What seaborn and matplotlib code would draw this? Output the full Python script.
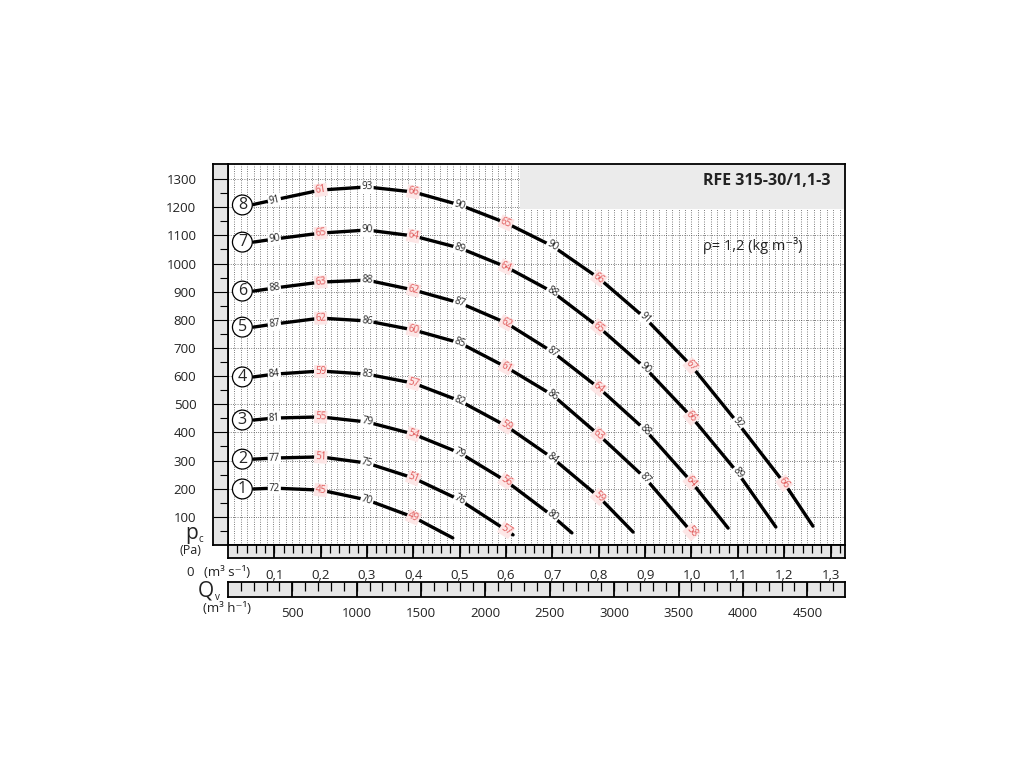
import numpy as np
import pandas as pd
import matplotlib
matplotlib.use('Agg')
import matplotlib.pyplot as plt
import seaborn as sns
from matplotlib.patches import Rectangle

sns.set_theme(style='white')
plt.rcParams['font.family'] = ['Open Sans', 'DejaVu Sans']

# Curvas del ventilador: caudal (m3/s) y presion (Pa)
q1 = [0.055, 0.1, 0.2, 0.3, 0.4, 0.485]
p1 = [199, 202, 195, 160, 99, 25]
e1 = [72, 45, 70, 49]

q2 = [0.055, 0.1, 0.2, 0.3, 0.4, 0.5, 0.6, 0.615]
p2 = [305, 309, 313, 291, 238, 160, 53, 36]
e2 = [77, 51, 75, 51, 76, 57]

q3 = [0.055, 0.1, 0.2, 0.3, 0.4, 0.5, 0.6, 0.7, 0.742]
p3 = [444, 451, 455, 437, 394, 327, 227, 103, 43]
e3 = [81, 55, 79, 54, 79, 56, 80]

q4 = [0.055, 0.1, 0.2, 0.3, 0.4, 0.5, 0.6, 0.7, 0.8, 0.874]
p4 = [597, 607, 618, 607, 575, 512, 423, 309, 171, 46]
e4 = [84, 59, 83, 57, 82, 59, 84, 59]

q5 = [0.055, 0.1, 0.2, 0.3, 0.4, 0.5, 0.6, 0.7, 0.8, 0.9, 1.0]
p5 = [774, 785, 806, 796, 764, 718, 632, 533, 391, 238, 46]
e5 = [87, 62, 86, 60, 85, 61, 86, 63, 87, 58]

q6 = [0.055, 0.1, 0.2, 0.3, 0.4, 0.5, 0.6, 0.7, 0.8, 0.9, 1.0, 1.079]
p6 = [902, 913, 934, 941, 906, 860, 789, 686, 558, 409, 224, 60]
e6 = [88, 63, 88, 62, 87, 62, 87, 64, 88, 64]

q7 = [0.055, 0.1, 0.2, 0.3, 0.4, 0.5, 0.6, 0.7, 0.8, 0.9, 1.0, 1.1, 1.182]
p7 = [1076, 1087, 1108, 1119, 1098, 1055, 988, 899, 774, 629, 455, 256, 64]
e7 = [90, 65, 90, 64, 89, 64, 88, 65, 90, 66, 89]

q8 = [0.05, 0.1, 0.2, 0.3, 0.4, 0.5, 0.6, 0.7, 0.8, 0.9, 1.0, 1.1, 1.2, 1.262]
p8 = [1208, 1226, 1261, 1272, 1254, 1208, 1144, 1062, 948, 806, 636, 433, 220, 67]
e8 = [91, 61, 93, 66, 90, 65, 90, 66, 91, 67, 92, 66]

curvas = [(q1, p1, e1), (q2, p2, e2), (q3, p3, e3), (q4, p4, e4),
          (q5, p5, e5), (q6, p6, e6), (q7, p7, e7), (q8, p8, e8)]

ticks_pa = list(range(100, 1301, 100))
ticks_qs = [0.1, 0.2, 0.3, 0.4, 0.5, 0.6, 0.7, 0.8, 0.9, 1.0, 1.1, 1.2, 1.3]
ticks_qh = [500, 1000, 1500, 2000, 2500, 3000, 3500, 4000, 4500]

XMAX = 1.3312
YMAX = 1353.5
GRIS = '#e6e6e6'

fig = plt.figure(figsize=(10.24, 7.68), dpi=100)

def px(x, y, w, h):
    return [x / 1024, 1 - (y + h) / 768, w / 1024, h / 768]

# Grafico principal
ax = fig.add_axes(px(228, 164, 617, 381))
ax.set_xlim(0, XMAX)
ax.set_ylim(0, YMAX)
ax.set_xticks(np.arange(1, 96) / 72)
ax.set_yticks(ticks_pa)
ax.tick_params(length=0, labelbottom=False, labelleft=False)
ax.set_axisbelow(True)
ax.grid(True, color='#333333', lw=0.55, ls=(0, (1, 2)))
for s in ax.spines.values():
    s.set_color('black')
    s.set_linewidth(1.3)

ax.add_patch(Rectangle((0.4733, 0.882), 0.53, 0.12, transform=ax.transAxes,
                       fc='#ebebeb', ec='none', zorder=1.5))
ax.text(0.976, 0.955, 'RFE 315-30/1,1-3', transform=ax.transAxes, ha='right', va='center',
        fontsize=11.5, fontweight='bold', color='#222222', zorder=5)
ax.text(0.77, 0.787, 'ρ= 1,2 (kg m⁻³)', transform=ax.transAxes, ha='left', va='center',
        fontsize=10.5, color='#222222', zorder=5)

for n, (q, p, e) in enumerate(curvas, start=1):
    df = pd.DataFrame({'q': q, 'p': p})
    sns.lineplot(data=df, x='q', y='p', sort=False, estimator=None, color='black',
                 lw=2.4, ax=ax, zorder=3)
    ax.text(0.031, p[0], str(n), ha='center', va='center', fontsize=11.5, zorder=5,
            bbox=dict(boxstyle='circle,pad=0.12', fc='white', ec='black', lw=0.9))

ax.set_xlabel('')
ax.set_ylabel('')

# Etiquetas a lo largo de las curvas
tr = ax.transData
for q, p, e in curvas:
    pts = tr.transform(np.column_stack([q, p]))
    for j, val in enumerate(e):
        i = j + 1
        a = pts[i - 1]
        b = pts[min(i + 1, len(q) - 1)]
        ang = np.degrees(np.arctan2(b[1] - a[1], b[0] - a[0]))
        if j % 2 == 1:
            col, fondo = '#e05a5a', '#fde6e6'
        else:
            col, fondo = '#222222', 'white'
        ax.text(q[i], p[i], str(val), ha='center', va='center', rotation=ang,
                rotation_mode='anchor', fontsize=7, color=col, zorder=6,
                bbox=dict(boxstyle='square,pad=0.1', fc=fondo, ec='none'))

# Franja izquierda (Pa)
axs = fig.add_axes(px(213, 164, 15, 381))
axs.set_facecolor(GRIS)
axs.set_xlim(0, 1)
axs.set_ylim(0, YMAX)
axs.hlines(ticks_pa, 0, 1, color='black', lw=0.8)
axs.hlines([t - 50 for t in ticks_pa], 0.45, 1, color='black', lw=0.8)
axs.set_xticks([])
axs.set_yticks(ticks_pa)
axs.set_yticklabels([str(t) for t in ticks_pa])
axs.tick_params(length=0, pad=12, labelsize=9.5, labelcolor='#222222')
for s in axs.spines.values():
    s.set_color('black')
    s.set_linewidth(1.3)

# Escala m3/s
axb1 = fig.add_axes(px(228, 545, 617, 13))
axb1.set_facecolor(GRIS)
axb1.set_xlim(0, XMAX)
axb1.set_ylim(0, 1)
axb1.vlines(ticks_qs, 0, 1, color='black', lw=1.3)
axb1.vlines(np.arange(1, 67) * 0.02, 0.4, 1, color='black', lw=0.9)
axb1.set_yticks([])
axb1.set_xticks(ticks_qs)
axb1.set_xticklabels([f'{t:.1f}'.replace('.', ',') for t in ticks_qs])
axb1.tick_params(length=0, pad=8, labelsize=9.5, labelcolor='#222222')
for s in axb1.spines.values():
    s.set_color('black')
    s.set_linewidth(1.3)

# Escala m3/h
axb2 = fig.add_axes(px(228, 582, 617, 15))
axb2.set_facecolor(GRIS)
axb2.set_xlim(0, XMAX * 3600)
axb2.set_ylim(0, 1)
axb2.vlines(ticks_qh, 0, 1, color='black', lw=1.3)
axb2.vlines(np.arange(1, 48) * 100, 0.4, 1, color='black', lw=0.9)
axb2.set_yticks([])
axb2.set_xticks(ticks_qh)
axb2.set_xticklabels([str(t) for t in ticks_qh])
axb2.tick_params(length=0, pad=7, labelsize=9.5, labelcolor='#222222')
for s in axb2.spines.values():
    s.set_color('black')
    s.set_linewidth(1.3)

def ft(x, y, s, **kw):
    fig.text(x / 1024, 1 - y / 768, s, color='#222222', **kw)

ft(192, 534, 'p', fontsize=15, ha='center', va='center')
ft(201, 539, 'c', fontsize=7, ha='center', va='center')
ft(190, 550, '(Pa)', fontsize=9, ha='center', va='center')
ft(190, 573, '0', fontsize=9.5, ha='center', va='center')
ft(227, 572, '(m³ s⁻¹)', fontsize=9.5, ha='center', va='center')
ft(206, 591, 'Q', fontsize=15, ha='center', va='center')
ft(217, 597, 'v', fontsize=7, ha='center', va='center')
ft(227, 609, '(m³ h⁻¹)', fontsize=9.5, ha='center', va='center')

fig.savefig('out.png', dpi=100)
